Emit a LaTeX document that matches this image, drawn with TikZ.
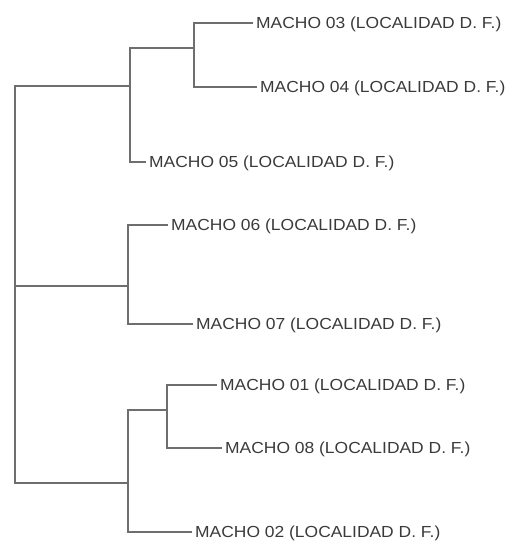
\documentclass[tikz,border=0pt]{standalone}
\usepackage{fontspec}
\setmainfont{Liberation Sans}[FakeStretch=1.09]
\usepackage{tikz}
\usepackage{xcolor}
\definecolor{linegray}{HTML}{6E6E6E}
\definecolor{textgray}{HTML}{3A3A3A}
\tikzset{
  leaf/.style={anchor=west, inner xsep=3pt, inner ysep=0pt, text height=11.5pt, text depth=0pt,
    text=textgray, font=\fontsize{16}{18}\selectfont},
  branch/.style={draw=linegray, line width=1.1pt}
}

\begin{document}
\begin{tikzpicture}[x=1pt, y=-1pt]
\useasboundingbox (0,0) rectangle (522,542);
\node[leaf] (m03) at (253,23) {MACHO 03 (LOCALIDAD D. F.)};
\node[leaf] (m04) at (257,87) {MACHO 04 (LOCALIDAD D. F.)};
\node[leaf] (m05) at (146,162) {MACHO 05 (LOCALIDAD D. F.)};
\node[leaf] (m06) at (168,225) {MACHO 06 (LOCALIDAD D. F.)};
\node[leaf] (m07) at (193,324) {MACHO 07 (LOCALIDAD D. F.)};
\node[leaf] (m01) at (217,385) {MACHO 01 (LOCALIDAD D. F.)};
\node[leaf] (m08) at (222,448) {MACHO 08 (LOCALIDAD D. F.)};
\node[leaf] (m02) at (192,532) {MACHO 02 (LOCALIDAD D. F.)};
\coordinate (s34) at (194,48);
\coordinate (gA) at (130,86);
\coordinate (gB) at (128,286);
\coordinate (s18) at (167,410);
\coordinate (gC) at (128,483);
\coordinate (root) at (15,286);
\draw[branch] (m03.west) -| (s34) |- (m04.west);
\draw[branch] (s34) -| (gA) |- (m05.west);
\draw[branch] (m06.west) -| (gB) |- (m07.west);
\draw[branch] (m01.west) -| (s18) |- (m08.west);
\draw[branch] (s18) -| (gC) |- (m02.west);
\draw[branch] (gA) -| (root) |- (gC);
\draw[branch] (root) -- (gB);
\end{tikzpicture}
\end{document}
